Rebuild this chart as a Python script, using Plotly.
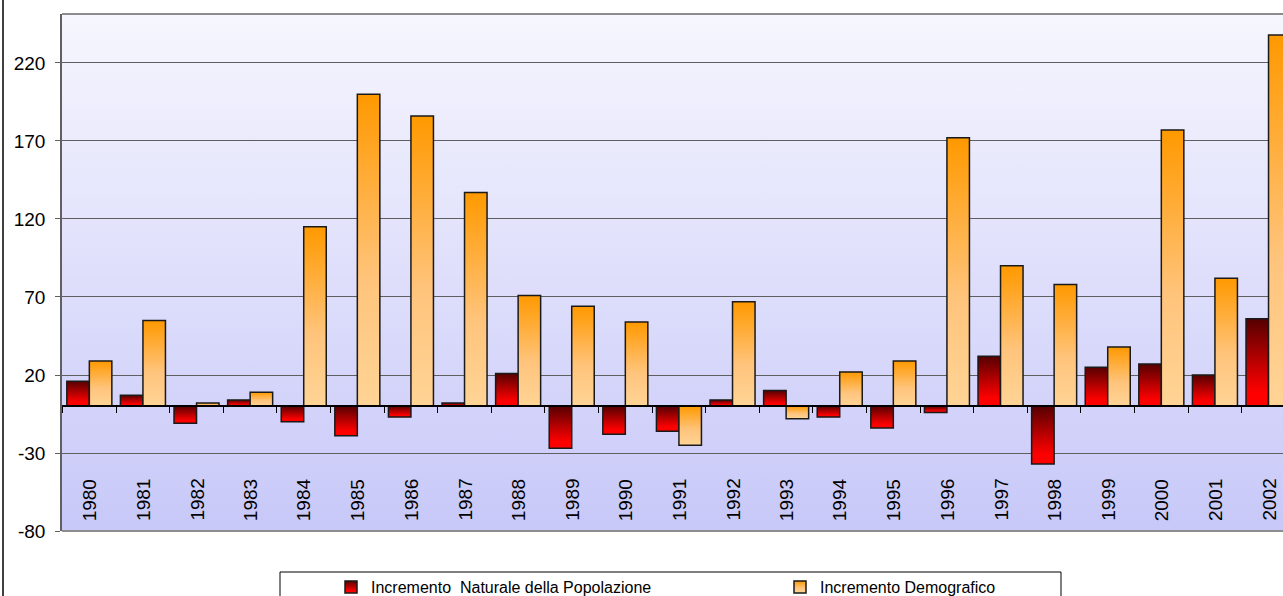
import base64
import plotly.graph_objects as go

# ---------------- data ----------------
years = [str(y) for y in range(1980, 2003)]
incremento_naturale = [16, 7, -11, 4, -10, -19, -7, 2, 21, -27, -18, -16, 4, 10, -7, -14, -4, 32, -37, 25, 27, 20, 56]
incremento_demografico = [29, 55, 2, 9, 115, 200, 186, 137, 71, 64, 54, -25, 67, -8, 22, 29, 172, 90, 78, 38, 177, 82, 238]
y_tickvals = [-80, -30, 20, 70, 120, 170, 220]
y_ticktext = ["-80", "-30", "20", "70", "120", "170", "220"]
series_names = ["Incremento\u00a0 Naturale della Popolazione", "Incremento Demografico"]

# ---------------- geometry ----------------
FIG_W, FIG_H = 1283, 596
M_L, M_R, M_T, M_B = 62, 0, 14, 65
PW = FIG_W - M_L - M_R
PH = FIG_H - M_T - M_B
Y_MIN, Y_MAX = -80, 251.4
X_MIN, X_MAX = -0.51, 22.27


def px_x(px):
    return (px - M_L) / PW


def px_y(py):
    return (FIG_H - M_B - py) / PH


FONT = "Liberation Sans, Arial, sans-serif"

fig = go.Figure()
fig.add_trace(go.Bar(
    x=years, y=incremento_naturale, name=series_names[0], legend="legend",
    marker=dict(color="#c00000", line=dict(color="#1a1a1a", width=1.5)),
))
fig.add_trace(go.Bar(
    x=years, y=incremento_demografico, name=series_names[1], legend="legend2",
    marker=dict(color="#ffb45a", line=dict(color="#1a1a1a", width=1.5)),
))

# background gradient of the plot area
svg_bg = ('<svg xmlns="http://www.w3.org/2000/svg" width="100" height="100" viewBox="0 0 100 100" '
          'preserveAspectRatio="none"><defs><linearGradient id="g" x1="0" y1="0" x2="0" y2="1">'
          '<stop offset="0" stop-color="#f6f6fe"/><stop offset="1" stop-color="#c8c8f9"/>'
          '</linearGradient></defs><rect width="100" height="100" fill="url(#g)"/></svg>')
bg_src = "data:image/svg+xml;base64," + base64.b64encode(svg_bg.encode()).decode()

# year labels inside the bottom of the plot area (category index positions)
annotations = [
    dict(x=i, y=0, xref="x", yref="paper", text=yr, showarrow=False, textangle=-90,
         xanchor="center", yanchor="bottom", yshift=8,
         font=dict(family=FONT, size=19, color="black"))
    for i, yr in enumerate(years)
]

shapes = [
    # top and bottom border of plot area
    dict(type="line", xref="paper", yref="paper", x0=0, x1=1, y0=1, y1=1,
         line=dict(color="#8c8c8c", width=2), layer="above"),
    dict(type="line", xref="paper", yref="paper", x0=0, x1=1, y0=0, y1=0,
         line=dict(color="#8c8c8c", width=2), layer="above"),
    # outer chart border (left)
    dict(type="line", xref="paper", yref="paper", x0=px_x(3), x1=px_x(3), y0=px_y(FIG_H + 2), y1=px_y(-2),
         line=dict(color="black", width=1.5)),
    # legend box
    dict(type="rect", xref="paper", yref="paper", x0=px_x(280), x1=px_x(1061), y0=px_y(600), y1=px_y(572),
         line=dict(color="black", width=1), fillcolor="white", layer="below"),
]

fig.update_layout(
    width=FIG_W, height=FIG_H,
    margin=dict(l=M_L, r=M_R, t=M_T, b=M_B, autoexpand=False),
    paper_bgcolor="white",
    plot_bgcolor="#dcdcfa",
    font=dict(family=FONT, color="black"),
    barmode="group", bargap=0.16, bargroupgap=0,
    images=[dict(source=bg_src, xref="paper", yref="paper", x=0, y=1, sizex=1, sizey=1,
                 xanchor="left", yanchor="top", sizing="stretch", layer="below")],
    xaxis=dict(type="category", categoryorder="array", categoryarray=years,
               range=[X_MIN, X_MAX], anchor="free", position=(0 - Y_MIN) / (Y_MAX - Y_MIN),
               showline=True, linecolor="black", linewidth=1.5,
               ticks="outside", tickson="boundaries", ticklen=6, tickcolor="black", tickwidth=1,
               showticklabels=False, showgrid=False, zeroline=False),
    yaxis=dict(range=[Y_MIN, Y_MAX], tickvals=y_tickvals, ticktext=y_ticktext,
               showgrid=True, gridcolor="#5f5f5f", gridwidth=1, zeroline=False,
               showline=True, linecolor="#606060", linewidth=1.5,
               ticks="outside", ticklen=5, tickcolor="#606060",
               ticklabelstandoff=6,
               tickfont=dict(family=FONT, size=19, color="black")),
    showlegend=True,
    legend=dict(orientation="h", x=px_x(331), xanchor="left", y=px_y(587), yanchor="middle",
                bgcolor="rgba(0,0,0,0)", borderwidth=0, font=dict(family=FONT, size=16, color="black"),
                itemclick=False, itemdoubleclick=False),
    legend2=dict(orientation="h", x=px_x(780), xanchor="left", y=px_y(587), yanchor="middle",
                 bgcolor="rgba(0,0,0,0)", borderwidth=0, font=dict(family=FONT, size=16, color="black"),
                 itemclick=False, itemdoubleclick=False),
    annotations=annotations,
    shapes=shapes,
)

post_js = """
document.body.style.margin = '0';
document.body.style.padding = '0';
document.body.style.overflow = 'hidden';
var gd = document.getElementById('{plot_id}');
var svg = gd.querySelector('svg.main-svg');
var ns = 'http://www.w3.org/2000/svg';
var defs = svg.querySelector('defs');
if (!defs) { defs = document.createElementNS(ns, 'defs'); svg.insertBefore(defs, svg.firstChild); }
function addGrad(id, stops) {
  var g = document.createElementNS(ns, 'linearGradient');
  g.setAttribute('id', id); g.setAttribute('x1', '0'); g.setAttribute('y1', '0');
  g.setAttribute('x2', '0'); g.setAttribute('y2', '1');
  stops.forEach(function(s) {
    var st = document.createElementNS(ns, 'stop');
    st.setAttribute('offset', s[0]); st.setAttribute('stop-color', s[1]);
    g.appendChild(st);
  });
  defs.appendChild(g);
}
addGrad('gradNat', [['0', '#560000'], ['0.6', '#d00000'], ['0.85', '#ff0000'], ['1', '#ff0000']]);
addGrad('gradDem', [['0', '#ff9900'], ['0.6', '#ffc47c'], ['1', '#ffd496']]);
var grads = ['url(#gradNat)', 'url(#gradDem)'];
var traces = gd.querySelectorAll('.barlayer .trace.bars');
traces.forEach(function(t, i) {
  t.querySelectorAll('path').forEach(function(p) { p.style.fill = grads[i % 2]; });
});
var lp = gd.querySelectorAll('.legendpoints');
lp.forEach(function(t, i) {
  t.querySelectorAll('path').forEach(function(p) { p.style.fill = grads[i % 2]; });
});
"""

fig.write_html("out.html", post_script=post_js, config={"displayModeBar": False, "staticPlot": False})
